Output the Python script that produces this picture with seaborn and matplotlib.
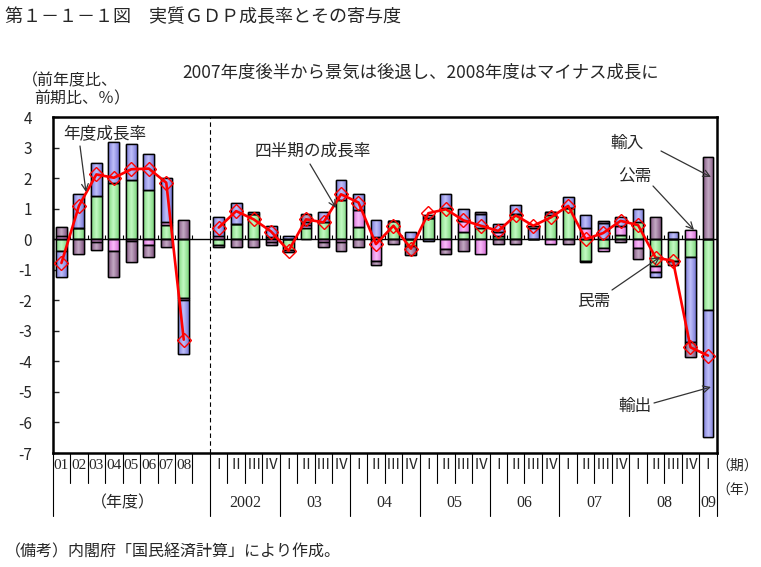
import numpy as np
import matplotlib
matplotlib.use("Agg")
import matplotlib.pyplot as plt
import matplotlib.colors as mcolors
import seaborn as sns

# ==========================================
# data
# ==========================================
FY_LABELS = ["01", "02", "03", "04", "05", "06", "07", "08"]
Q_LABELS = ["Ⅰ", "Ⅱ", "Ⅲ", "Ⅳ"] * 7 + ["Ⅰ"]
YEAR_LABELS = ["2002", "03", "04", "05", "06", "07", "08", "09"]
YEAR_QUARTERS = [4, 4, 4, 4, 4, 4, 4, 1]

# fiscal years 2001-2008
green_fy = [-0.40, 0.35, 1.40, 1.83, 1.94, 1.61, 0.47, -1.91]   # 民需
pink_fy = [0.12, 0.00, -0.08, -0.38, -0.07, -0.18, 0.08, -0.08]  # 公需
blue_fy = [-0.85, 1.14, 1.10, 1.36, 1.16, 1.19, 1.46, -1.77]     # 輸出
purple_fy = [0.29, -0.47, -0.28, -0.87, -0.69, -0.39, -0.27, 0.62]  # 輸入
growth_fy = [-0.78, 1.09, 2.12, 2.01, 2.29, 2.31, 1.85, -3.29]

# quarters 2002Q1-2009Q1
green_q = [-0.20, 0.51, 0.82, 0.08, -0.36, 0.35, 0.55, 1.29, 0.41, 0.08,
           0.60, -0.22, 0.70, 1.01, 0.22, 0.36, 0.10, 0.82, 0.00, 0.80,
           1.03, -0.71, -0.30, 0.13, 0.55, -0.87, -0.71, -0.58, -2.31]
pink_q = [0.12, 0.00, 0.00, -0.08, 0.00, 0.10, -0.08, -0.08, 0.54, -0.70,
          0.00, 0.00, 0.00, -0.31, 0.36, -0.47, 0.14, 0.00, 0.00, -0.17,
          0.00, 0.35, -0.08, 0.31, -0.30, -0.20, 0.00, 0.31, 0.00]
blue_q = [0.59, 0.69, 0.08, 0.34, 0.10, 0.12, 0.35, 0.64, 0.54, 0.54,
          0.00, 0.22, -0.07, 0.48, 0.42, 0.46, 0.27, 0.29, 0.37, 0.10,
          0.36, 0.44, 0.52, 0.27, 0.45, -0.18, 0.22, -2.80, -4.17]
purple_q = [-0.07, -0.27, -0.27, -0.10, -0.06, 0.25, -0.17, -0.30, -0.27, -0.16,
            -0.16, -0.29, 0.08, -0.16, -0.38, 0.08, -0.16, -0.16, 0.07, 0.00,
            -0.16, -0.05, 0.08, -0.08, -0.35, 0.71, -0.14, -0.49, 2.69]
growth_q = [0.38, 0.92, 0.65, 0.25, -0.38, 0.65, 0.55, 1.47, 1.20, -0.16,
            0.44, -0.31, 0.85, 0.98, 0.62, 0.44, 0.27, 0.78, 0.44, 0.71,
            1.09, 0.00, 0.20, 0.60, 0.46, -0.60, -0.71, -3.54, -3.81]

COLORS = ["#92F592", "#F584F5", "#8C8CF5", "#946494"]

W, H = 761, 567


def shade(ax, patch, col):
    # horizontal gradient inside a bar: darker edges, lighter centre
    h = patch.get_height()
    if h == 0:
        return
    x0, y0, w = patch.get_x(), patch.get_y(), patch.get_width()
    rgb = np.array(mcolors.to_rgb(col))
    t = np.abs(np.linspace(-1, 1, 40))[:, None]
    light = rgb + (1 - rgb) * 0.45
    dark = rgb * 0.88
    grad = light * (1 - t) + dark * t
    im = ax.imshow(grad[None, :, :], extent=(x0, x0 + w, y0, y0 + h),
                   aspect="auto", interpolation="bilinear", zorder=2)
    im.set_clip_path(patch)


def draw_stack(ax, x, series, width=0.62):
    pos = np.zeros(len(x))
    neg = np.zeros(len(x))
    for vals, col in zip(series, COLORS):
        vals = np.asarray(vals, dtype=float)
        bottom = np.where(vals >= 0, pos, neg)
        bars = ax.bar(x, vals, bottom=bottom, width=width, color=col,
                      edgecolor="black", linewidth=1.0, zorder=2)
        for p in bars.patches:
            shade(ax, p, col)
            # edge on top of the gradient
            ax.add_patch(plt.Rectangle((p.get_x(), p.get_y()), p.get_width(),
                                       p.get_height(), fill=False,
                                       edgecolor="black", linewidth=1.0, zorder=2.5))
        pos = pos + np.clip(vals, 0, None)
        neg = neg + np.clip(vals, None, 0)


def fpx(x, y):
    # image pixel (top-left origin) -> figure pixels
    return (x, H - y)


sns.set_theme(style="white")
plt.rcParams["font.family"] = ["Noto Sans CJK JP", "DejaVu Sans"]

fig = plt.figure(figsize=(W / 100, H / 100), dpi=100)
ax = fig.add_axes([52.7 / W, 1 - 453 / H, 664 / W, 336 / H])

n_fy = len(FY_LABELS)
x_fy = np.arange(n_fy)
x_q = np.arange(len(Q_LABELS)) + n_fy + 1
n_all = n_fy + 1 + len(Q_LABELS)

draw_stack(ax, x_fy, [green_fy, pink_fy, blue_fy, purple_fy])
draw_stack(ax, x_q, [green_q, pink_q, blue_q, purple_q])

line_kw = dict(color="red", linewidth=1.9, marker="D", markersize=7,
               markerfacecolor="none", markeredgecolor="red",
               markeredgewidth=1.0, zorder=4)
sns.lineplot(x=x_fy, y=growth_fy, ax=ax, **line_kw)
sns.lineplot(x=x_q, y=growth_q, ax=ax, **line_kw)

ax.set_xlim(-0.5, n_all - 0.5)
ax.set_ylim(-7, 4)
ax.set_aspect("auto")
ax.axhline(0, color="black", linewidth=1.0, zorder=3)
bounds = np.arange(n_all - 1) + 0.5
ax.vlines(bounds, 0, 0.13, color="black", linewidth=0.8, zorder=3)
ax.axvline(n_fy + 0.5, color="black", linewidth=0.8, linestyle=(0, (4, 3)), zorder=1)

ax.set_yticks(range(-7, 5))
ax.set_yticklabels([str(v) for v in range(-7, 5)], fontsize=11)
ax.set_xticks([])
ax.tick_params(axis="y", direction="in", length=4, width=1, pad=15, left=True)
for s in ax.spines.values():
    s.set_color("black")
    s.set_linewidth(1.8)
ax.grid(False)

# ----- category table under the axis -----
trans = ax.get_xaxis_transform()
row1_y, row2_y = -0.036, -0.149
short_b, long_b = -0.089, -0.1875
tbl_font = ["Liberation Serif", "Noto Sans CJK JP"]

for i, lab in enumerate(FY_LABELS):
    ax.text(x_fy[i], row1_y, lab, transform=trans, ha="center", va="center",
            fontsize=11, family=tbl_font)
for i, lab in enumerate(Q_LABELS):
    ax.text(x_q[i], row1_y, lab, transform=trans, ha="center", va="center",
            fontsize=10.5, family=["Noto Sans CJK JP"])

full_lines = [-0.5, n_fy + 0.5]
start = n_fy + 1
for lab, nq in zip(YEAR_LABELS, YEAR_QUARTERS):
    ax.text(start + (nq - 1) / 2, row2_y, lab, transform=trans, ha="center",
            va="center", fontsize=11.5, family=tbl_font)
    start += nq
    full_lines.append(start - 0.5)
ax.text((n_fy - 1) / 2, row2_y, "（年度）", transform=trans, ha="center",
        va="center", fontsize=11.5)

short_lines = [b for b in np.arange(n_all + 1) - 0.5
               if b not in full_lines and b > -0.5]
for b in short_lines:
    ax.plot([b, b], [0, short_b], transform=trans, color="black",
            linewidth=0.8, clip_on=False)
for b in full_lines:
    ax.plot([b, b], [0, long_b], transform=trans, color="black",
            linewidth=0.8, clip_on=False)

# ----- texts -----
fig.text(5 / W, 1 - 17 / H, "第１－１－１図　実質ＧＤＰ成長率とその寄与度",
         fontsize=13, va="center", ha="left")
fig.text(421 / W, 1 - 72 / H, "2007年度後半から景気は後退し、2008年度はマイナス成長に",
         fontsize=12.5, va="center", ha="center")
fig.text(22 / W, 1 - 81 / H, "（前年度比、", fontsize=11.5, va="center", ha="left")
fig.text(34 / W, 1 - 99 / H, "前期比、％）", fontsize=11.5, va="center", ha="left")
fig.text(716 / W, 1 - 466 / H, "（期）", fontsize=10, va="center", ha="left")
fig.text(716 / W, 1 - 491 / H, "（年）", fontsize=10, va="center", ha="left")
fig.text(5 / W, 1 - 552 / H, "（備考）内閣府「国民経済計算」により作成。",
         fontsize=11.5, va="center", ha="left")

arrow = dict(arrowstyle="->", color="#333333", linewidth=0.9, shrinkA=0, shrinkB=0)
notes = [
    ("年度成長率", (63, 134), (80, 146), (86, 192)),
    ("四半期の成長率", (255, 151), (310, 164), (336, 208)),
    ("輸入", (610, 143), (661, 151), (711, 177)),
    ("公需", (618, 176), (653, 186), (694, 230)),
    ("民需", (577, 301), (612, 290), (660, 257)),
    ("輸出", (618, 406), (654, 403), (711, 387)),
]
for txt, tpos, a0, a1 in notes:
    fig.text(tpos[0] / W, 1 - tpos[1] / H, txt, fontsize=12, va="center", ha="left")
    ax.annotate("", xy=fpx(*a1), xytext=fpx(*a0), xycoords="figure pixels",
                textcoords="figure pixels", arrowprops=arrow, zorder=5)

fig.savefig("out.png", dpi=100)
plt.close(fig)
